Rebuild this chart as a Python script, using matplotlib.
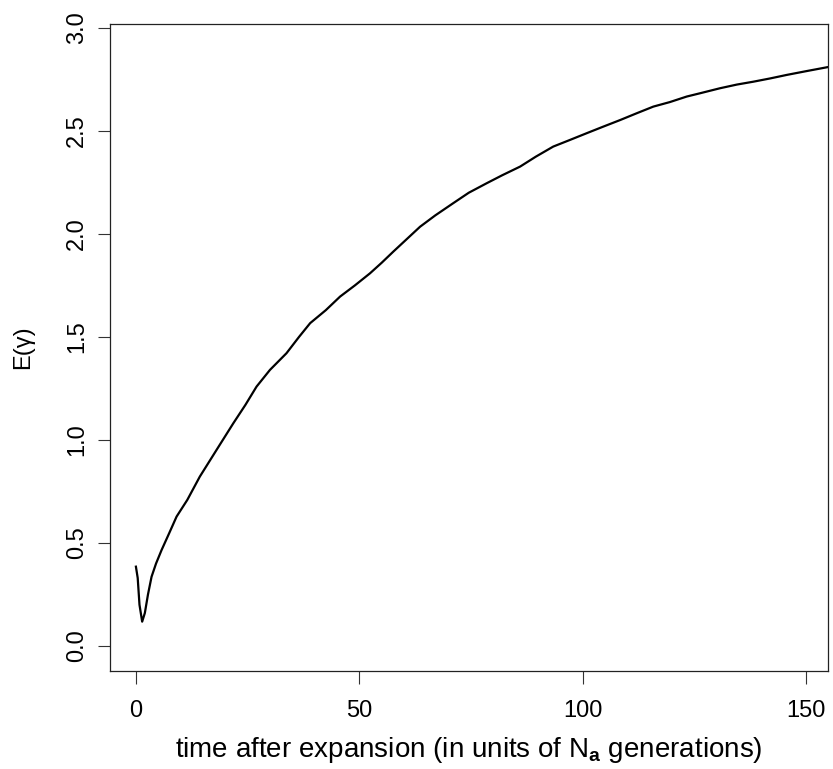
import matplotlib
matplotlib.use("Agg")
import matplotlib.pyplot as plt

plt.rcParams['font.family'] = ['Liberation Sans', 'DejaVu Sans']
plt.rcParams['mathtext.fontset'] = 'custom'
plt.rcParams['mathtext.rm'] = 'Liberation Sans'
plt.rcParams['mathtext.bf'] = 'Liberation Sans:bold'

# mean gamma over time after the expansion
t = [0, 0.4, 0.8, 1.4, 2.0, 2.7, 3.5, 4.5, 5.75, 7.5, 9.1, 11.5, 14.3, 18,
     21.8, 24.5, 27, 30, 33.7, 36.5, 39, 42.5, 45.7, 49, 52.4, 55, 57.6,
     63.6, 67, 71, 74.5, 78.5, 82, 86, 89.5, 93.4, 97, 100.9, 104.5, 108.4,
     112, 115.8, 119.5, 123.3, 126.3, 130.7, 134.5, 138.2, 142, 145.7, 150,
     155.4]
egamma = [0.385, 0.33, 0.2, 0.118, 0.16, 0.25, 0.336, 0.40, 0.466, 0.55,
          0.628, 0.709, 0.822, 0.95, 1.081, 1.17, 1.259, 1.34, 1.421, 1.50,
          1.567, 1.63, 1.696, 1.75, 1.809, 1.86, 1.914, 2.035, 2.09, 2.149,
          2.20, 2.246, 2.285, 2.327, 2.375, 2.424, 2.455, 2.489, 2.52, 2.553,
          2.585, 2.618, 2.64, 2.667, 2.683, 2.707, 2.725, 2.739, 2.755, 2.772,
          2.79, 2.812]

xticks = [0, 50, 100, 150]
yticks = [0.0, 0.5, 1.0, 1.5, 2.0, 2.5, 3.0]

fig = plt.figure(figsize=(8.33, 7.69), dpi=100)
ax = fig.add_axes([110/833, 1 - 670.7/769, 718/833, 646.7/769])

ax.plot(t, egamma, color='black', lw=1.6)

ax.set_xlim(-5.8, 154.9)
ax.set_ylim(-0.120, 3.019)
ax.set_xticks(xticks)
ax.set_xticklabels([str(v) for v in xticks])
ax.set_yticks(yticks)
ax.set_yticklabels(['%.1f' % v for v in yticks], rotation=90, va='center')

ax.tick_params(direction='out', length=9, width=0.8, color='#333333',
               labelsize=17)
ax.tick_params(axis='x', pad=12)
ax.tick_params(axis='y', pad=7)
for s in ax.spines.values():
    s.set_linewidth(0.9)
    s.set_color('#222222')

ax.set_xlabel(r'time after expansion (in units of N$_{\mathbf{a}}$ generations)',
              fontsize=20)
ax.set_ylabel('E(γ)', fontsize=17)
ax.xaxis.set_label_coords(0.5, -0.123)
ax.yaxis.set_label_coords(-0.121, 0.5)
ax.xaxis.label.set_va('center')
ax.yaxis.label.set_va('center')

fig.savefig('out.png', dpi=100)
